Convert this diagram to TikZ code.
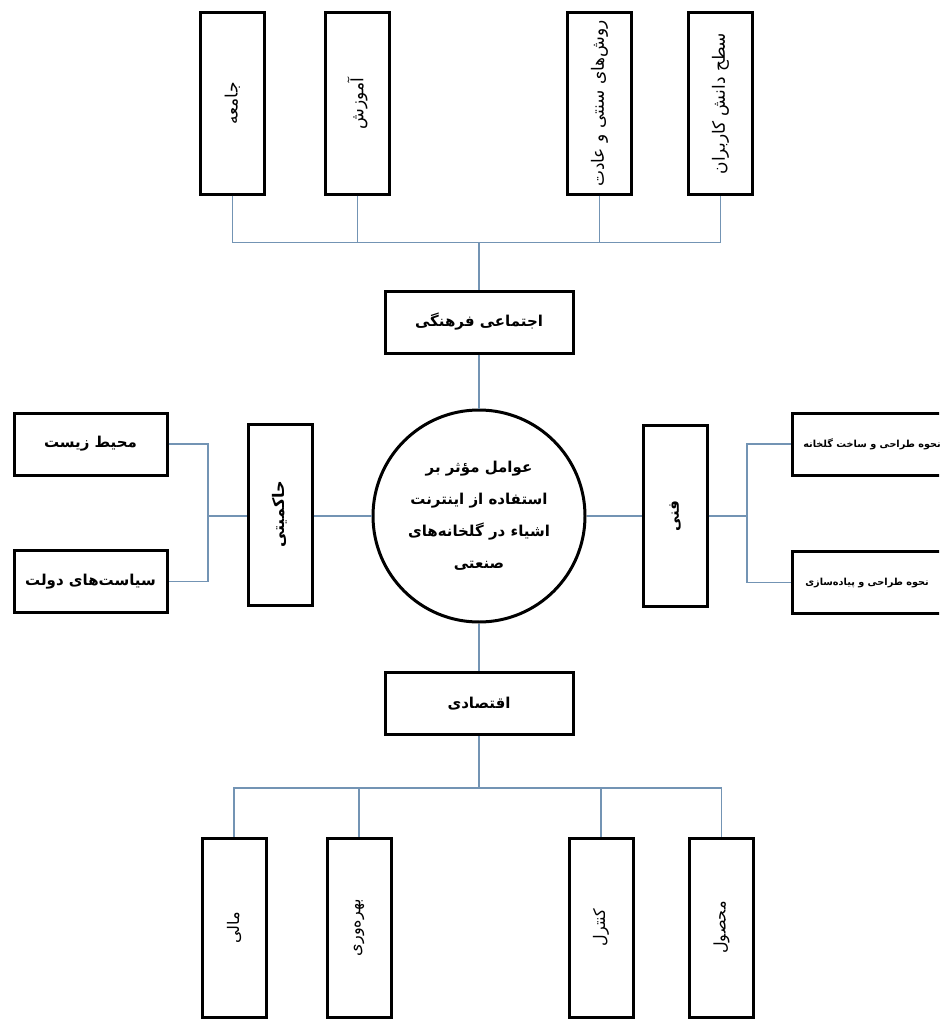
\documentclass[tikz,border=0pt]{standalone}
\usepackage{fontspec}
\newfontfamily\arfont[Script=Arabic]{DejaVu Sans}
\TeXXeTstate=1
\newcommand{\fa}[1]{\beginR #1\endR}
\definecolor{conn}{RGB}{115,148,180}
\tikzset{
  x=1pt, y=-1pt,
  box/.style={draw=black, line width=3pt, rectangle, inner sep=0pt, font=\arfont},
  vbox/.style={box, rotate=90, minimum width=181pt, minimum height=64pt},
  hbox/.style={box, minimum width=188pt, minimum height=62pt},
  sbox/.style={box, minimum width=153pt, minimum height=62pt},
  bigtxt/.style={font=\arfont\bfseries\fontsize{15}{18}\selectfont},
  toptxt/.style={font=\arfont\fontsize{17}{20}\selectfont},
  bottxt/.style={font=\arfont\fontsize{16}{19}\selectfont},
  righttxt/.style={anchor=east, inner sep=0pt, font=\arfont\bfseries\fontsize{9.7}{12}\selectfont},
  conn/.style={draw=conn, line width=1.3pt}
}
\begin{document}
\begin{tikzpicture}
\useasboundingbox (0,0) rectangle (939,1019);
\clip (0,0) rectangle (939,1019);
\fill[white] (0,0) rectangle (939,1019);

% top boxes
\node[vbox, toptxt] (t1) at (232.5,103.5) {\fa{جامعه}};
\node[vbox, toptxt] (t2) at (357.5,103.5) {\fa{آموزش}};
\node[vbox, toptxt] (t3) at (599.5,103.5) {\fa{روش‌های سنتی و عادت}};
\node[vbox, toptxt] (t4) at (720.5,103.5) {\fa{سطح دانش کاربران}};
\coordinate (tb) at (479,242.5);
\node[hbox, bigtxt] (soc) at (479,322) {\fa{اجتماعی فرهنگی}};

% centre
\node[circle, draw=black, line width=3pt, minimum size=212pt, inner sep=0pt, align=center,
      font=\arfont\bfseries\fontsize{15}{32}\selectfont] (c) at (479,516)
  {\fa{عوامل مؤثر بر}\\\fa{استفاده از اینترنت}\\\fa{اشیاء در گلخانه‌های}\\\fa{صنعتی}};

% left
\node[vbox, bigtxt, font=\arfont\bfseries\fontsize{16}{19}\selectfont] (gov) at (280,514.5) {\fa{حاکمیتی}};
\node[sbox, bigtxt] (env) at (90.5,444) {\fa{محیط زیست}};
\node[sbox, bigtxt] (pol) at (90.5,581.5) {\fa{سیاست‌های دولت}};
\coordinate (lb) at (208,516);

% right
\node[vbox, bigtxt] (tech) at (675,516) {\fa{فنی}};
\node[box, minimum width=208pt, minimum height=62pt] (r1) at (896,444) {};
\node[box, minimum width=208pt, minimum height=62pt] (r2) at (896,582.5) {};
\node[righttxt] (r1t) at (941,444) {\fa{نحوه طراحی و ساخت گلخانه}};
\node[righttxt] (r2t) at (929,582.5) {\fa{نحوه طراحی و پیاده‌سازی}};
\coordinate (rb) at (747,516);

% bottom
\node[hbox, font=\arfont\bfseries\fontsize{15}{18}\selectfont] (eco) at (479,703.5) {\fa{اقتصادی}};
\coordinate (bb) at (479,788);
\node[vbox, bottxt, minimum width=179pt] (b1) at (234,927.5) {\fa{مالی}};
\node[vbox, bottxt, minimum width=179pt] (b2) at (359,927.5) {\fa{بهره‌وری}};
\node[vbox, bottxt, minimum width=179pt] (b3) at (601,927.5) {\fa{کنترل}};
\node[vbox, bottxt, minimum width=179pt] (b4) at (721.5,927.5) {\fa{محصول}};

% connectors top
\draw[conn] (t1) |- (tb) -| (t4);
\draw[conn] (t2) -- (t2 |- tb);
\draw[conn] (t3) -- (t3 |- tb);
\draw[conn] (tb) -- (soc);
\draw[conn] (soc) -- (c);
% left
\draw[conn] (env.east) -| (lb) |- (pol.east);
\draw[conn] (lb) -- (lb -| gov.north);
\draw[conn] (gov.south |- c) -- (c);
% right
\draw[conn] (c) -- (tech);
\draw[conn] (tech) -- (rb);
\draw[conn] (r1.west) -| (rb) |- (r2.west);
% bottom
\draw[conn] (c) -- (eco);
\draw[conn] (eco) -- (bb);
\draw[conn] (b1) |- (bb) -| (b4);
\draw[conn] (b2) -- (b2 |- bb);
\draw[conn] (b3) -- (b3 |- bb);
\end{tikzpicture}
\end{document}
